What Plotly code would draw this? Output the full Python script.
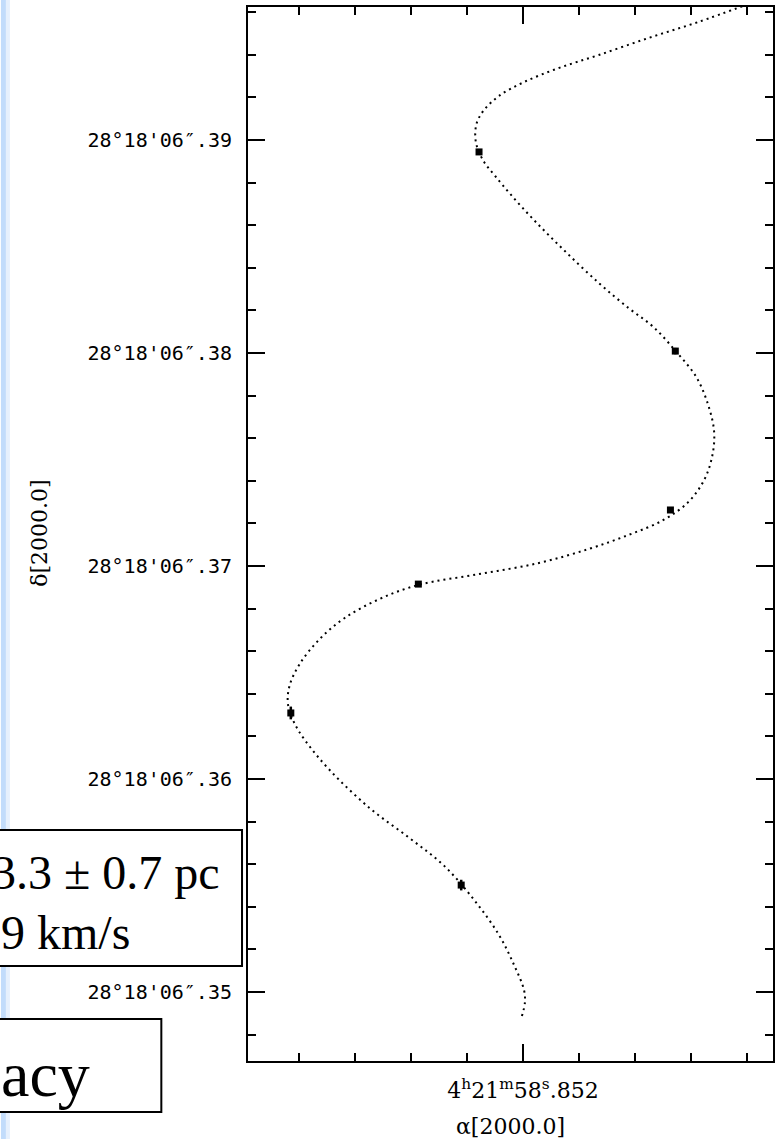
import math
import plotly.graph_objects as go

# Offsets are in milliarcseconds from the reference position
# alpha = 4h21m58.852s, delta = +28°18'06.35"
DEC_REF_DEG = 28.3018
MAS_PER_RA_TICK = 0.0002 * 15 * math.cos(math.radians(DEC_REF_DEG)) * 1000.0

# Axis labelling
ra_tick_vals = [0.0]
ra_tick_text = ["4<sup>h</sup>21<sup>m</sup>58<sup>s</sup>.852"]
dec_tick_vals = [0, 10, 20, 30, 40]
dec_tick_text = ["28°18'06″.35", "28°18'06″.36", "28°18'06″.37",
                 "28°18'06″.38", "28°18'06″.39"]

# Fitted parallax + proper-motion track (RA offset, Dec offset) [mas]
track_ra = [-10.61, -8.26, -5.92, -3.57, -1.69, -0.05, 1.13, 1.83, 2.16, 2.25,
            2.16, 1.83, 1.31, 0.56, -0.52, -1.92, -3.57, -4.98, -6.15, -7.23,
            -8.17, -8.73, -9.01, -8.92, -8.54, -7.79, -6.62, -4.98, -3.10, -0.75,
            2.07, 4.93, 6.76, 8.40, 9.58, 10.52, 10.99, 11.08, 10.80, 10.28,
            9.11, 7.23, 5.35, 3.71, 2.30, 1.13, 0.42, -0.05, -0.09, 0.05]
track_dec = [46.38, 45.54, 44.79, 43.99, 43.38, 42.72, 42.07, 41.41, 40.85, 40.23,
             39.67, 38.97, 38.31, 37.42, 36.24, 34.84, 33.29, 32.11, 31.22, 30.05,
             28.87, 27.56, 26.29, 25.16, 24.04, 23.00, 22.16, 21.46, 20.80, 20.14,
             19.62, 19.11, 18.45, 17.56, 16.57, 15.40, 14.41, 13.57, 12.68, 11.83,
             10.42, 8.64, 7.23, 5.92, 4.32, 2.68, 1.27, 0.09, -0.52, -1.13]

# VLBA measurements with uncertainties [mas]
obs_ra = [2.07, -7.18, -6.95, 4.93, 10.94, 2.91]
obs_dec = [39.44, 30.09, 22.63, 19.15, 13.10, 5.02]
obs_err_ra = [0.12, 0.10, 0.12, 0.10, 0.10, 0.08]
obs_err_dec = [0.10, 0.15, 0.12, 0.12, 0.30, 0.25]

# Page geometry (pixels)
W, H = 778, 1139
ML, MR, MT, MB = 248, 3, 7, 78
PW, PH = W - ML - MR, H - MT - MB


def px(x):
    return (x - ML) / PW


def py(y):
    return (H - MB - y) / PH


fig = go.Figure()

fig.add_trace(go.Scatter(
    x=track_ra, y=track_dec, mode="lines",
    line=dict(color="black", width=2, dash="2px,4px", shape="spline", smoothing=1.0),
    hoverinfo="skip", showlegend=False,
))

fig.add_trace(go.Scatter(
    x=obs_ra, y=obs_dec, mode="markers",
    marker=dict(symbol="square", size=7, color="black"),
    error_x=dict(type="data", array=obs_err_ra, color="black", thickness=2, width=0),
    error_y=dict(type="data", array=obs_err_dec, color="black", thickness=2.5, width=0),
    showlegend=False,
))

axis_common = dict(
    showline=True, linecolor="black", linewidth=2, mirror="allticks",
    ticks="inside", ticklen=17, tickwidth=1.5, tickcolor="black",
    showgrid=False, zeroline=False,
)

fig.update_xaxes(
    range=[(524 - ML) / 21.3, (524 - (W - MR)) / 21.3],
    tickmode="array", tickvals=ra_tick_vals, ticktext=ra_tick_text,
    tickfont=dict(family="DejaVu Serif", size=22, color="black"),
    ticklabelstandoff=9,
    minor=dict(ticks="inside", ticklen=8, tickwidth=1.5, tickcolor="black",
               tick0=0, dtick=MAS_PER_RA_TICK, showgrid=False),
    **axis_common,
)
fig.update_yaxes(
    range=[(992 - (H - MB)) / 21.3, (992 - MT) / 21.3],
    tickmode="array", tickvals=dec_tick_vals, ticktext=dec_tick_text,
    tickfont=dict(family="DejaVu Sans Mono", size=20, color="black"),
    ticklabelstandoff=10,
    minor=dict(ticks="inside", ticklen=8, tickwidth=1.5, tickcolor="black",
               tick0=0, dtick=2, showgrid=False),
    **axis_common,
)

shapes = [
    # slide border stripe
    dict(type="rect", xref="paper", yref="paper", x0=px(0), x1=px(5), y0=py(H), y1=py(0),
         fillcolor="#c2dcfb", line=dict(width=0), layer="below"),
    dict(type="rect", xref="paper", yref="paper", x0=px(5), x1=px(9), y0=py(H), y1=py(0),
         fillcolor="#e6f0fd", line=dict(width=0), layer="below"),
    # text boxes
    dict(type="rect", xref="paper", yref="paper", x0=px(-10), x1=px(242), y0=py(966), y1=py(830),
         fillcolor="white", line=dict(color="black", width=2)),
    dict(type="rect", xref="paper", yref="paper", x0=px(-10), x1=px(161), y0=py(1112), y1=py(1019),
         fillcolor="white", line=dict(color="black", width=2)),
]

serif = dict(family="Liberation Serif", size=48, color="black")
annotations = [
    dict(text="α[2000.0]", xref="paper", yref="paper", x=px(512), y=py(1126),
         xanchor="center", yanchor="middle", showarrow=False,
         font=dict(family="DejaVu Serif", size=22, color="black")),
    dict(text="δ[2000.0]", xref="paper", yref="paper", x=px(38), y=py(533),
         xanchor="center", yanchor="middle", showarrow=False, textangle=-90,
         font=dict(family="DejaVu Serif", size=22, color="black")),
    dict(text="3.3 ± 0.7 pc", xref="paper", yref="paper", x=px(222), y=py(872),
         xanchor="right", yanchor="middle", showarrow=False, font=serif),
    dict(text="9 km/s", xref="paper", yref="paper", x=px(-2), y=py(932),
         xanchor="left", yanchor="middle", showarrow=False, font=serif),
    dict(text="acy", xref="paper", yref="paper", x=px(-2), y=py(1074),
         xanchor="left", yanchor="middle", showarrow=False,
         font=dict(family="Liberation Serif", size=64, color="black")),
]

fig.update_layout(
    width=W, height=H,
    margin=dict(l=ML, r=MR, t=MT, b=MB),
    paper_bgcolor="white", plot_bgcolor="white",
    shapes=shapes, annotations=annotations,
    showlegend=False,
)

fig.write_html("out.html")
